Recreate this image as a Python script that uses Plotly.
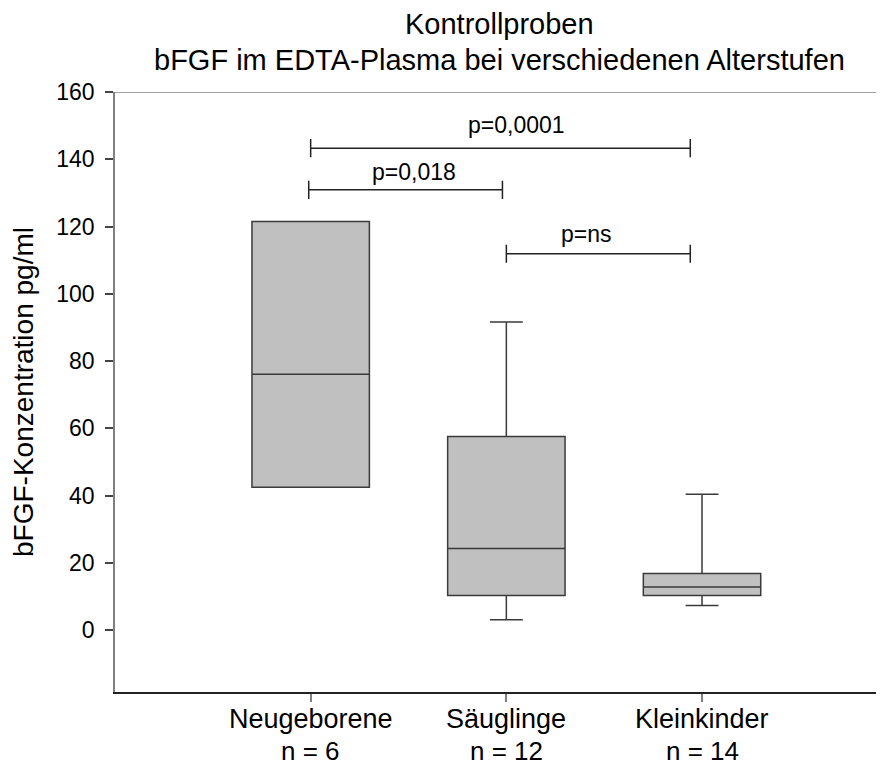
import plotly.graph_objects as go

# Gruppen und Kennzahlen
groups = ["Neugeborene", "Säuglinge", "Kleinkinder"]
n_labels = ["n = 6", "n = 12", "n = 14"]
positions = [1, 2, 3]
q1 = [42.5, 10.3, 10.3]
median = [76.1, 24.3, 12.8]
q3 = [121.5, 57.6, 16.8]
lower = [42.5, 3.1, 7.3]
upper = [121.5, 91.6, 40.4]

# Signifikanz-Klammern
br_x0 = [1.0, 0.99, 2.0]
br_x1 = [2.94, 1.98, 2.94]
br_y = [143.3, 130.9, 111.9]
br_text = ["p=0,0001", "p=0,018", "p=ns"]
br_text_x = [2.05, 1.53, 2.41]
br_text_shift = [23, 18, 20]

y_ticks = [0, 20, 40, 60, 80, 100, 120, 140, 160]

FONT = "Liberation Sans, Arial, Helvetica, sans-serif"

fig = go.Figure()

fig.add_trace(go.Box(
    x=positions, q1=q1, median=median, q3=q3,
    lowerfence=lower, upperfence=upper,
    width=0.6, whiskerwidth=0.28,
    fillcolor="#c0c0c0",
    line=dict(color="#3a3a3a", width=1.5),
    boxpoints=False, hoverinfo="skip", showlegend=False,
))

# Klammern mit Endstrichen
h = 2.7
for x0, x1, y in zip(br_x0, br_x1, br_y):
    fig.add_trace(go.Scatter(
        x=[x0, x0, x0, x1, x1, x1],
        y=[y - h, y + h, y, y, y + h, y - h],
        mode="lines", line=dict(color="#222222", width=1.5),
        hoverinfo="skip", showlegend=False,
    ))

for tx, y, t, s in zip(br_text_x, br_y, br_text, br_text_shift):
    fig.add_annotation(x=tx, y=y, text=t, showarrow=False, yshift=s,
                       yanchor="middle", font=dict(size=23, color="black", family=FONT))

# Titel, zwei Zeilen
for line, shift in [("Kontrollproben", 68), ("bFGF im EDTA-Plasma bei verschiedenen Alterstufen", 32)]:
    fig.add_annotation(text=line, xref="paper", yref="paper", x=0.5, y=1,
                       xanchor="center", yanchor="middle", yshift=shift, showarrow=False,
                       font=dict(size=29, family=FONT, color="black"))

# Gruppenbeschriftung unter der x-Achse
for pos, g, n in zip(positions, groups, n_labels):
    fig.add_annotation(text=g, x=pos, xref="x", y=0, yref="paper", yanchor="middle",
                       yshift=-27, showarrow=False, font=dict(size=27, family=FONT, color="black"))
    fig.add_annotation(text=n, x=pos, xref="x", y=0, yref="paper", yanchor="middle",
                       yshift=-59, showarrow=False, font=dict(size=26, family=FONT, color="black"))

# obere Rahmenlinie
fig.add_shape(type="line", xref="paper", yref="y", x0=0, x1=1, y0=160, y1=160,
              line=dict(color="#808080", width=1.5))

# Seite hat 8px Rand -> Figur etwas kleiner, damit kein Scrollbalken entsteht
fig.update_layout(
    width=876, height=758,
    margin=dict(l=107, r=0, t=84, b=74),
    plot_bgcolor="white", paper_bgcolor="white",
    font=dict(family=FONT, color="black"),
)

fig.update_xaxes(
    range=[0, 3.93], tickmode="array", tickvals=positions, showticklabels=False,
    ticks="outside", ticklen=8, tickcolor="#808080", tickwidth=1.5,
    showline=True, linecolor="#222222", linewidth=1.5,
    showgrid=False, zeroline=False, automargin=False,
)
fig.update_yaxes(
    range=[-18.4, 160], tickmode="array", tickvals=y_ticks,
    tickfont=dict(size=23, family=FONT, color="black"), ticklabelstandoff=6,
    ticks="outside", ticklen=8, tickcolor="#444444", tickwidth=1.5,
    showline=True, linecolor="#808080", linewidth=1.5,
    showgrid=False, zeroline=False, automargin=False,
    title=dict(text="bFGF-Konzentration pg/ml", standoff=20,
               font=dict(size=28, family=FONT, color="black")),
)

fig.write_html("out.html")
